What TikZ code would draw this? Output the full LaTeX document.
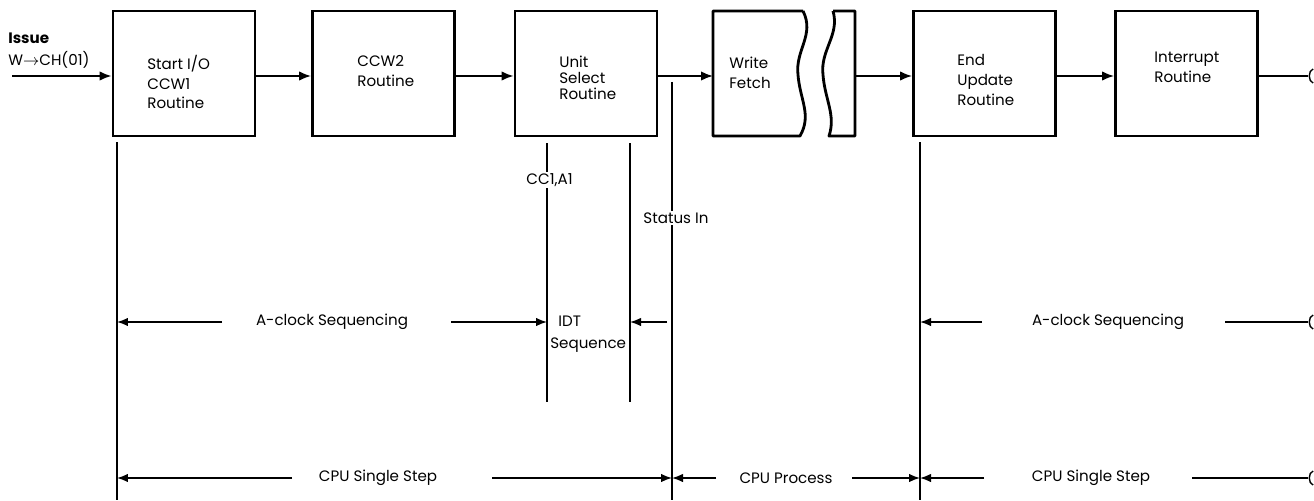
\documentclass[tikz,border=0pt]{standalone}
\usepackage{fontspec}
\setmainfont{Poppins}
\usetikzlibrary{arrows.meta}

\tikzset{
  routine/.style={draw, line width=1.6pt, minimum width=2.84cm, minimum height=2.5cm, inner sep=0pt},
  txt/.style={inner sep=0pt, align=left, font=\fontsize{8.6}{11.3}\selectfont},
  flow/.style={line width=1.1pt, -{Latex[length=2.4mm,width=1.9mm]}},
  dim/.style={line width=0.8pt, -{Latex[length=2.2mm,width=1.7mm]}},
  tick/.style={line width=0.8pt}
}

\begin{document}
\begin{tikzpicture}[x=0.02cm, y=-0.02cm]
            \useasboundingbox (0,0) rectangle (1314,500);

            % routine boxes
            \node[routine] (start) at (184,73.5) {};
            \node[routine] (ccw) at (383.5,73.5) {};
            \node[routine] (unit) at (586,73.5) {};
            \node[routine] (endupd) at (984.5,73.5) {};
            \node[routine] (intr) at (1186.5,73.5) {};

            % broken write fetch box
            \draw[line width=1.6pt, line join=round] (803,11) -- (713,11) -- (713,136) -- (800,136)
                .. controls (812,115) and (800,100) .. (798,75)
                .. controls (795,50) and (815,35) .. (803,11);
            \draw[line width=1.6pt, line join=round] (833,11) -- (855,11) -- (855,136) -- (829,136)
                .. controls (836,115) and (825,100) .. (823,75)
                .. controls (820,50) and (840,35) .. (833,11);
            \coordinate (wfin) at (713,76);
            \coordinate (wfout) at (855,76);

            % box texts
            \node[txt, anchor=west] (tstart) at (147,82) {Start I/O\\CCW1\\Routine};
            \node[txt, anchor=west] (tccw) at (357,71) {CCW2\\Routine};
            \node[txt, anchor=west, font=\fontsize{8.6}{9.2}\selectfont] (tunit) at (559,78) {Unit\\Select\\Routine};
            \node[txt, anchor=west] (twf) at (729,73) {Write\\Fetch};
            \node[txt, anchor=west] (tend) at (957,80) {End\\Update\\Routine};
            \node[txt, anchor=west] (tintr) at (1154,67) {Interrupt\\Routine};

            % issue input
            \node[txt, anchor=west, font=\fontsize{8.6}{10}\bfseries] (issue) at (8,38) {Issue};
            \node[txt, anchor=west] (wch) at (8,60) {W$\rightarrow$CH(01)};
            \coordinate (in) at (12,76);

            % flow arrows
            \draw[flow] (in) -- (in -| start.west);
            \draw[flow] (start.east |- in) -- (ccw.west |- in);
            \draw[flow] (ccw.east |- in) -- (unit.west |- in);
            \draw[flow] (unit.east |- in) -- (wfin);
            \draw[flow] (wfout) -- (endupd.west |- in);
            \draw[flow] (endupd.east |- in) -- (intr.west |- in);
            \coordinate (out) at (1308,76);
            \draw[line width=1.1pt] (intr.east |- in) -- (out);
            \draw[tick] (1313,69) .. controls (1308,71) and (1308,81) .. (1313,83);

            % time lines
            \draw[tick] (117,142) -- (117,500);
            \draw[tick] (547,143) -- (547,402);
            \draw[tick] (630,143) -- (630,402);
            \draw[tick] (672,82) -- (672,500);
            \draw[tick] (920,142) -- (920,500);

            \node[txt, fill=white, inner sep=1pt] (cc) at (549.5,180) {CC1,A1};
            \node[txt, fill=white, inner sep=1pt] (stin) at (676,218) {Status In};

            % A-clock row
            \node[txt] (aclk1) at (332,322) {A-clock Sequencing};
            \draw[dim] (222,322) -- (117,322);
            \draw[dim] (451,322) -- (547,322);
            \node[txt, anchor=west] (idt) at (558,321) {IDT};
            \node[txt, anchor=west] (idtseq) at (550,345) {Sequence};
            \draw[dim] (667,322) -- (630,322);
            \draw[dim] (982,322) -- (920,322);
            \node[txt] (aclk2) at (1108,322) {A-clock Sequencing};
            \draw[tick] (1225,322) -- (1308,322);
            \draw[tick] (1313,315) .. controls (1308,317) and (1308,327) .. (1313,329);

            % CPU row
            \node[txt] (cpu1) at (378,478) {CPU Single Step};
            \draw[dim] (292,478) -- (117,478);
            \draw[dim] (492,478) -- (672,478);
            \draw[dim] (716,478) -- (672,478);
            \node[txt] (cpuproc) at (786,478) {CPU Process};
            \draw[dim] (852,478) -- (920,478);
            \draw[dim] (984,478) -- (920,478);
            \node[txt] (cpu2) at (1091,478) {CPU Single Step};
            \draw[tick] (1192,478) -- (1308,478);
            \draw[tick] (1313,471) .. controls (1308,473) and (1308,483) .. (1313,485);
        \end{tikzpicture}
\end{document}
